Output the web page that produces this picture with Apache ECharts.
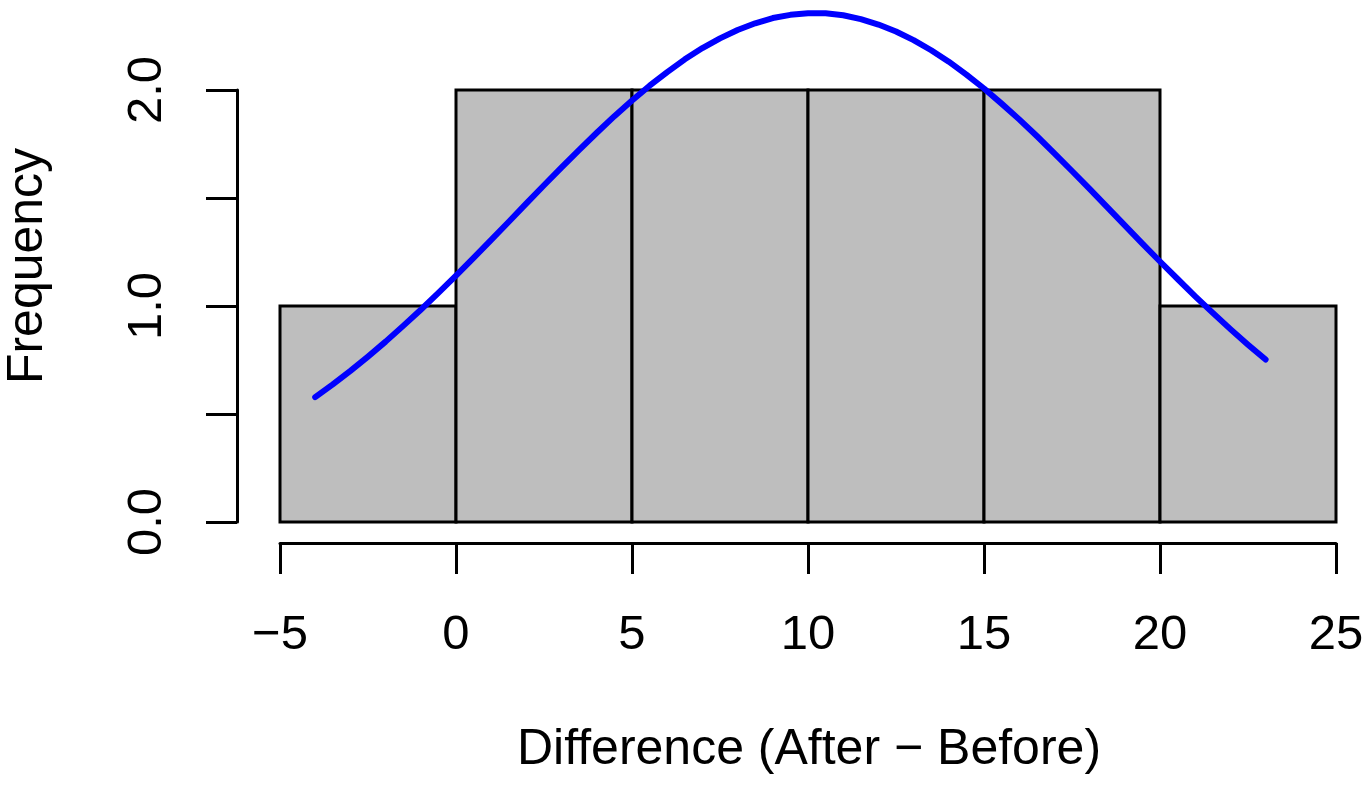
<!DOCTYPE html>
<html>
<head>
<meta charset="utf-8">
<script src="https://cdn.jsdelivr.net/npm/echarts@6/dist/echarts.min.js"></script>
<style>
html,body{margin:0;padding:0;background:#fff;}
#chart{width:1370px;height:794px;}
</style>
</head>
<body>
<div id="chart"></div>
<script>
// Histogram bins: [start, end]
const binStarts = [-5, 0, 5, 10, 15, 20];
const binEnds   = [0, 5, 10, 15, 20, 25];
const binCounts = [1, 2, 2, 2, 2, 1];

// Normal density curve (scaled to counts)
const curveX = [-4,-3.5,-3,-2.5,-2,-1.5,-1,-0.5,0,0.5,1,1.5,2,2.5,3,3.5,4,4.5,5,5.5,6,6.5,7,7.5,8,8.5,9,9.5,10,10.5,11,11.5,12,12.5,13,13.5,14,14.5,15,15.5,16,16.5,17,17.5,18,18.5,19,19.5,20,20.5,21,21.5,22,22.5,23];
const curveY = [0.578,0.637,0.700,0.766,0.835,0.908,0.983,1.061,1.141,1.223,1.306,1.390,1.475,1.559,1.642,1.723,1.802,1.879,1.951,2.020,2.083,2.142,2.194,2.239,2.278,2.309,2.333,2.348,2.355,2.355,2.346,2.328,2.303,2.271,2.231,2.184,2.131,2.071,2.007,1.937,1.864,1.787,1.707,1.625,1.542,1.458,1.373,1.289,1.206,1.125,1.045,0.968,0.893,0.821,0.752];

const xTicks = [-5, 0, 5, 10, 15, 20, 25];
const yTicks = [0, 0.5, 1.0, 1.5, 2.0];
const yLabelled = [0, 1.0, 2.0];

const xTitle = 'Difference (After \u2212 Before)';
const yTitle = 'Frequency';

const FONT = '"Liberation Sans", Arial, Helvetica, sans-serif';

const histData = binStarts.map((s, i) => [s, binEnds[i], binCounts[i]]);
const curveData = curveX.map((x, i) => [x, curveY[i]]);

const chart = echarts.init(document.getElementById('chart'), null, {renderer: 'canvas'});
chart.setOption({
  animation: false,
  backgroundColor: '#ffffff',
  grid: {left: 280, top: 90, width: 1056, height: 432, containLabel: false},
  xAxis: {
    type: 'value',
    min: xTicks[0], max: xTicks[xTicks.length - 1], interval: 5,
    position: 'bottom',
    offset: 21,
    splitLine: {show: false},
    axisLine: {show: true, onZero: false, lineStyle: {color: '#000', width: 3}},
    axisTick: {show: true, length: 31, lineStyle: {color: '#000', width: 3}},
    axisLabel: {
      margin: 68, color: '#000', fontSize: 49, fontFamily: FONT,
      formatter: v => (v < 0 ? '\u2212' + Math.abs(v) : String(v))
    }
  },
  yAxis: {
    type: 'value',
    min: yTicks[0], max: yTicks[yTicks.length - 1], interval: 0.5,
    position: 'left',
    offset: 43,
    splitLine: {show: false},
    axisLine: {show: true, onZero: false, lineStyle: {color: '#000', width: 3}},
    axisTick: {show: true, length: 31, lineStyle: {color: '#000', width: 3}},
    axisLabel: {
      margin: 65, rotate: 90, color: '#000', fontSize: 49, fontFamily: FONT,
      formatter: v => (yLabelled.some(t => Math.abs(t - v) < 1e-9) ? v.toFixed(1) : '')
    }
  },
  series: [
    {
      type: 'custom',
      clip: false,
      data: histData,
      encode: {x: [0, 1], y: 2},
      renderItem: function (params, api) {
        const x0 = api.value(0), x1 = api.value(1), c = api.value(2);
        const p0 = api.coord([x0, c]);
        const p1 = api.coord([x1, 0]);
        return {
          type: 'rect',
          shape: {x: p0[0], y: p0[1], width: p1[0] - p0[0], height: p1[1] - p0[1]},
          style: {fill: '#BEBEBE', stroke: '#000', lineWidth: 3}
        };
      },
      z: 1
    },
    {
      type: 'line',
      data: curveData,
      clip: false,
      smooth: false,
      symbol: 'none',
      lineStyle: {color: '#0000FF', width: 6, cap: 'round', join: 'round'},
      z: 3
    }
  ],
  graphic: [
    {
      type: 'text', x: 809, y: 750,
      style: {text: xTitle, font: '50px ' + FONT, fill: '#000',
              align: 'center', verticalAlign: 'middle', textAlign: 'center', textVerticalAlign: 'middle'}
    },
    {
      type: 'text', x: 28, y: 266, rotation: Math.PI / 2,
      style: {text: yTitle, font: '50px ' + FONT, fill: '#000',
              align: 'center', verticalAlign: 'middle', textAlign: 'center', textVerticalAlign: 'middle'}
    }
  ]
});
</script>
</body>
</html>
